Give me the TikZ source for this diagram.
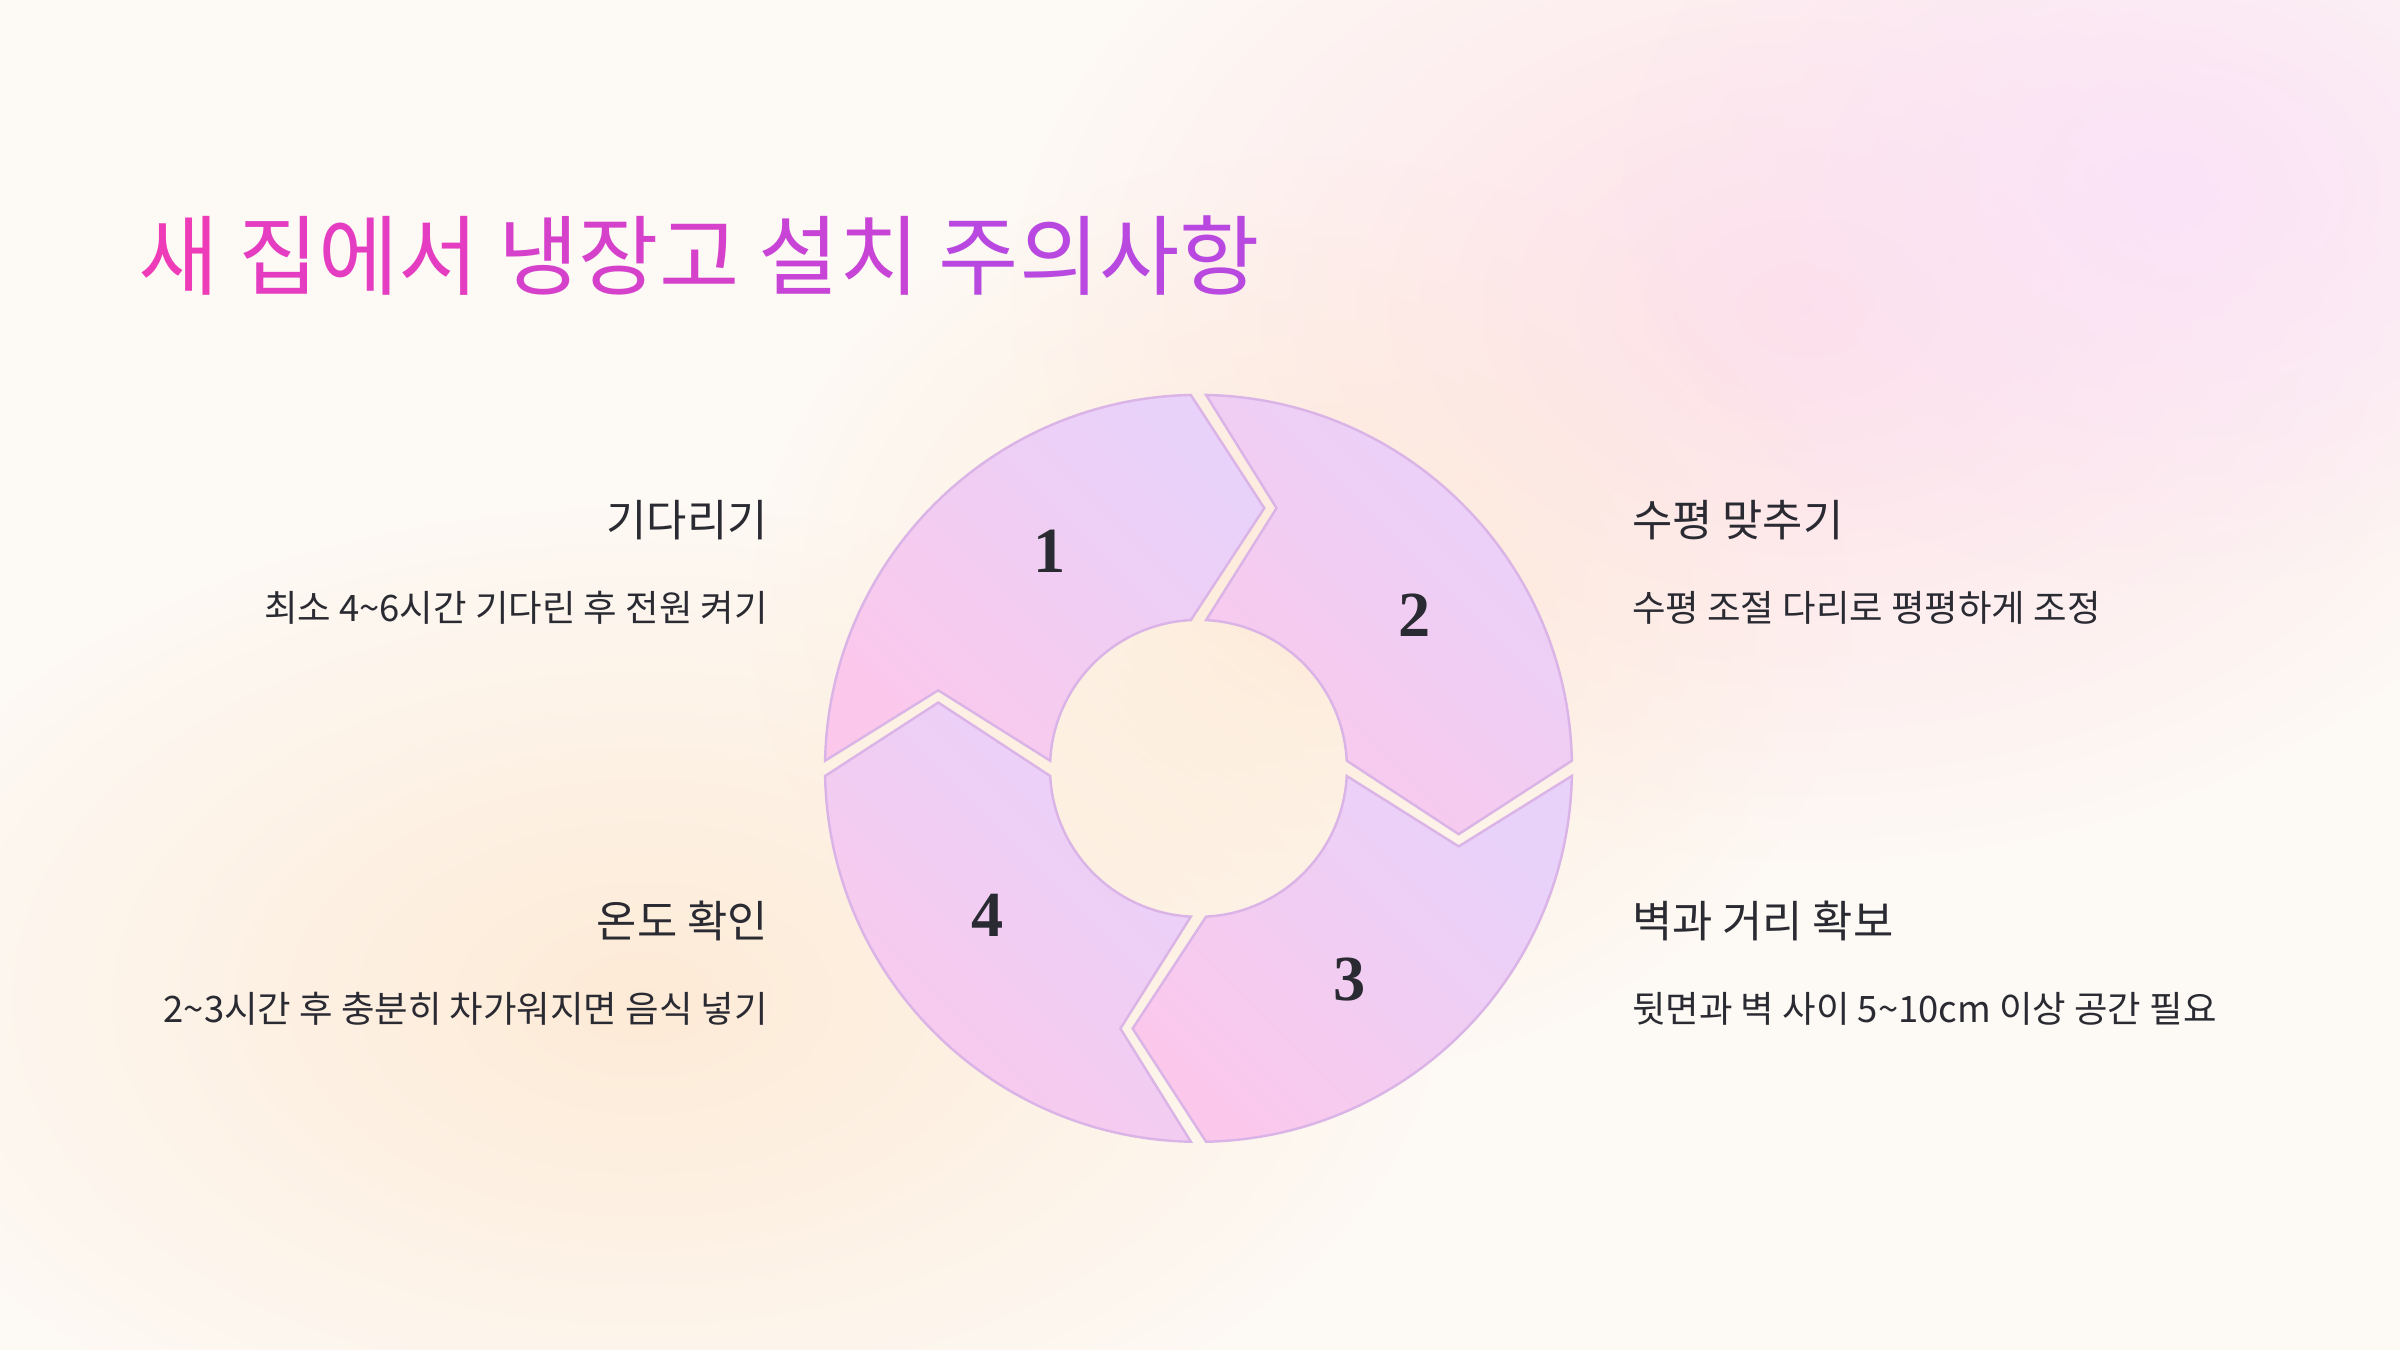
\documentclass[tikz,border=0pt]{standalone}
\usepackage{fontspec}
\newfontfamily\kr{Noto Sans CJK KR}
\newfontfamily\numf{Liberation Serif}
\usetikzlibrary{fadings}
\tikzfading[name=softblob, inner color=transparent!0, outer color=transparent!100]
\definecolor{bg}{HTML}{FDF9F4}
\definecolor{blobpink}{HTML}{FDDDE8}
\definecolor{bloblav}{HTML}{FAE2F8}
\definecolor{blobpeach}{HTML}{FDE7CF}
\definecolor{segpink}{HTML}{FBC8EC}
\definecolor{seglav}{HTML}{E8D2FA}
\definecolor{segline}{HTML}{DAB4E6}
\definecolor{txt}{HTML}{2A2A32}
\definecolor{tA}{HTML}{EE3BB8}
\definecolor{tB}{HTML}{E43DC2}
\definecolor{tC}{HTML}{D641CC}
\definecolor{tD}{HTML}{C844D6}
\definecolor{tE}{HTML}{B848E0}
\tikzset{
  seg/.style={draw=segline,line width=0.8pt,top color=seglav,bottom color=segpink,shading angle=-45},
  num/.style={font=\numf\bfseries\fontsize{21}{24}\selectfont,text=txt},
  head/.style={inner sep=0pt,font=\kr\fontsize{14.3}{16}\selectfont,text=txt},
  body/.style={inner sep=0pt,font=\kr\fontsize{11.9}{13}\selectfont,text=txt},
  blob/.style={path fading=softblob},
}
\begin{document}
\begin{tikzpicture}[x=0.5pt,y=0.5pt]
\useasboundingbox (0,0) rectangle (1568,882);
\fill[bg] (0,0) rectangle (1568,882);
\fill[blobpink,blob,opacity=0.9] (1180,680) ellipse (520 and 360);
\fill[bloblav,blob,opacity=0.9] (1420,760) ellipse (360 and 260);
\fill[blobpeach,blob,opacity=0.8] (420,230) ellipse (520 and 320);
\fill[blobpeach,blob,opacity=0.7] (850,480) ellipse (360 and 300);
\node[anchor=west,inner sep=0pt,font=\kr\fontsize{28.5}{32}\selectfont] (title) at (90,715)
 {\textcolor{tA}{새} \textcolor{tB}{집에서} \textcolor{tC}{냉장고} \textcolor{tD}{설치} \textcolor{tE}{주의사항}};
\begin{scope}[shift={(783,380)}]
\shade[seg] (178.83:244) arc[start angle=178.83,end angle=91.17,radius=244] -- (43,170) -- (92.95:97) arc[start angle=92.95,end angle=177.05,radius=97] -- (-170,51) -- cycle;
\shade[seg] (88.83:244) arc[start angle=88.83,end angle=1.17,radius=244] -- (170,-43) -- (2.95:97) arc[start angle=2.95,end angle=87.05,radius=97] -- (51,170) -- cycle;
\shade[seg] (-1.17:244) arc[start angle=-1.17,end angle=-88.83,radius=244] -- (-43,-170) -- (-87.05:97) arc[start angle=-87.05,end angle=-2.95,radius=97] -- (170,-51) -- cycle;
\shade[seg] (-91.17:244) arc[start angle=-91.17,end angle=-178.83,radius=244] -- (-170,43) -- (-177.05:97) arc[start angle=-177.05,end angle=-92.95,radius=97] -- (-51,-170) -- cycle;
\node[num] (n1) at (-97,142) {1};
\node[num] (n2) at (141,100) {2};
\node[num] (n3) at (99,-138) {3};
\node[num] (n4) at (-138,-96) {4};
\end{scope}
\node[head,anchor=east] (h1) at (502,542) {기다리기};
\node[body,anchor=east] (b1) at (502,485) {최소 4\textasciitilde 6시간 기다린 후 전원 켜기};
\node[head,anchor=east] (h4) at (502,280) {온도 확인};
\node[body,anchor=east] (b4) at (502,223) {2\textasciitilde 3시간 후 충분히 차가워지면 음식 넣기};
\node[head,anchor=west] (h2) at (1066,542) {수평 맞추기};
\node[body,anchor=west] (b2) at (1066,485) {수평 조절 다리로 평평하게 조정};
\node[head,anchor=west] (h3) at (1066,280) {벽과 거리 확보};
\node[body,anchor=west] (b3) at (1066,223) {뒷면과 벽 사이 5\textasciitilde 10cm 이상 공간 필요};
\end{tikzpicture}
\end{document}
